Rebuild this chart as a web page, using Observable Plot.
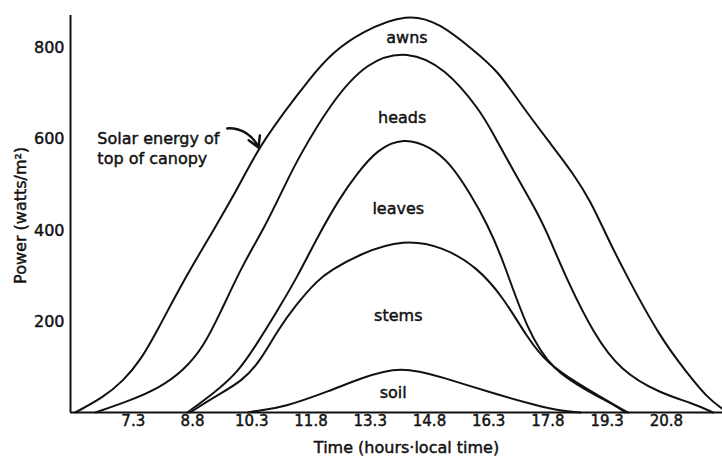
<!DOCTYPE html>
<html><head><meta charset="utf-8">
<script src="https://cdn.jsdelivr.net/npm/d3@7"></script>
<script src="https://cdn.jsdelivr.net/npm/@observablehq/plot@0.6"></script>
<style>html,body{margin:0;padding:0;background:#fff}svg{display:block}</style>
</head><body><div id="chart"></div>
<script>
// Tick labels
const xTicks = [7.3, 8.8, 10.3, 11.8, 13.3, 14.8, 16.3, 17.8, 19.3, 20.8];
const yTicks = [200, 400, 600, 800];

// Series: time (hours, local) and power (W/m²)
const solarT = [5.83, 6.54, 7.05, 7.48, 7.91, 8.57, 9.33, 10.06, 10.52, 11.86, 12.36, 13.05, 14.24, 15.07, 15.91, 16.52, 17.17, 17.86, 18.44, 18.87, 19.30, 19.81, 20.64, 21.33, 21.83, 22.22];
const solarP = [0, 33, 70, 114, 180, 290, 400, 510, 591, 745, 791, 835, 878, 855, 796, 752, 670, 591, 525, 466, 385, 297, 165, 86, 33, 8];

const headsT = [6.34, 7.22, 7.98, 8.57, 9.07, 9.50, 10.08, 10.59, 11.20, 11.45, 12.29, 13.22, 14.24, 15.20, 16.08, 16.41, 17.02, 17.60, 17.86, 18.29, 18.95, 19.63, 20.64, 21.48, 21.98];
const headsP = [0, 26, 55, 92, 143, 218, 327, 400, 510, 554, 679, 772, 796, 757, 664, 613, 516, 429, 378, 290, 174, 92, 42, 20, 0];

const leavesT = [8.67, 9.33, 9.93, 10.44, 10.95, 11.45, 11.96, 12.54, 12.97, 13.48, 14.14, 14.82, 15.33, 15.83, 16.26, 16.67, 17.27, 17.93, 18.79, 19.63, 19.76];
const leavesP = [0, 42, 86, 152, 224, 297, 385, 473, 525, 578, 604, 584, 547, 481, 415, 334, 180, 92, 48, 9, 0];

const stemsT = [8.74, 9.33, 10.08, 10.52, 10.95, 11.45, 11.96, 12.29, 13.05, 14.14, 15.15, 16.01, 16.67, 17.27, 17.78, 18.54, 19.63, 19.83];
const stemsP = [0, 33, 70, 114, 180, 240, 290, 312, 349, 381, 364, 319, 253, 165, 108, 64, 9, 0];

const soilT = [10.2, 10.44, 11.10, 12.29, 13.05, 14.06, 15.15, 16.41, 17.53, 18.11, 18.62];
const soilP = [0, 4, 11, 48, 75, 103, 77, 42, 15, 4, 0];

// In-chart labels (data coordinates)
const labelNames = ["awns", "heads", "leaves", "stems", "soil"];
const labelT = [14.23, 14.11, 14.01, 14.01, 13.88];
const labelP = [822, 648, 448, 213, 44];

const noteText = "Solar energy of\ntop of canopy";
const noteT = 6.39, noteP = 582;
const arrowFrom = [9.68, 624];
const arrowTo = [10.47, 582];
const yTitle = "Power (watts/m²)", yTitleT = 4.46, yTitleP = 433;
const xTitle = "Time (hours·local time)";

const xDomain = [5.71, 22.22];
const yDomain = [0, 872];

function toRows(name, T, P) { return T.map((t, i) => ({series: name, t, p: P[i]})); }
const rows = [
  ...toRows("solar", solarT, solarP),
  ...toRows("heads", headsT, headsP),
  ...toRows("leaves", leavesT, leavesP),
  ...toRows("stems", stemsT, stemsP),
  ...toRows("soil", soilT, soilP)
];
const labels = labelNames.map((n, i) => ({n, t: labelT[i], p: labelP[i]}));
const ink = "#111";
const txt = {fill: ink, stroke: ink, strokeWidth: 0.45, fontSize: 16};

const chart = Plot.plot({
  width: 722,
  height: 462,
  marginLeft: 70,
  marginRight: 0,
  marginTop: 15,
  marginBottom: 50,
  style: {fontFamily: "'DejaVu Sans', sans-serif", fontSize: "16px", color: ink, background: "#fff"},
  x: {domain: xDomain},
  y: {domain: yDomain},
  marks: [
    Plot.axisX(xTicks, {tickSize: 0, tickPadding: 3, fontSize: 15, tickFormat: d => d.toFixed(1), label: null, textStroke: ink, textStrokeWidth: 0.45}),
    Plot.axisY(yTicks, {tickSize: 0, tickPadding: 6, fontSize: 16, label: null, textStroke: ink, textStrokeWidth: 0.45}),
    Plot.ruleY([0], {stroke: ink, strokeWidth: 2}),
    Plot.ruleX([xDomain[0]], {stroke: ink, strokeWidth: 2}),
    Plot.line(rows, {x: "t", y: "p", z: "series", stroke: ink, strokeWidth: 2, curve: "basis"}),
    Plot.text(labels, {x: "t", y: "p", text: "n", ...txt}),
    Plot.text([noteText], {x: noteT, y: noteP, text: d => d, textAnchor: "start", lineHeight: 1.25, ...txt}),
    Plot.arrow([0], {x1: arrowFrom[0], y1: arrowFrom[1], x2: arrowTo[0], y2: arrowTo[1], bend: 35, stroke: ink, strokeWidth: 2.5, headLength: 9}),
    Plot.text([yTitle], {x: yTitleT, y: yTitleP, text: d => d, rotate: -90, clip: false, ...txt}),
    Plot.text([xTitle], {frameAnchor: "bottom", dx: 10, dy: 40, text: d => d, ...txt})
  ]
});
document.getElementById("chart").appendChild(chart);
</script>
</body></html>
